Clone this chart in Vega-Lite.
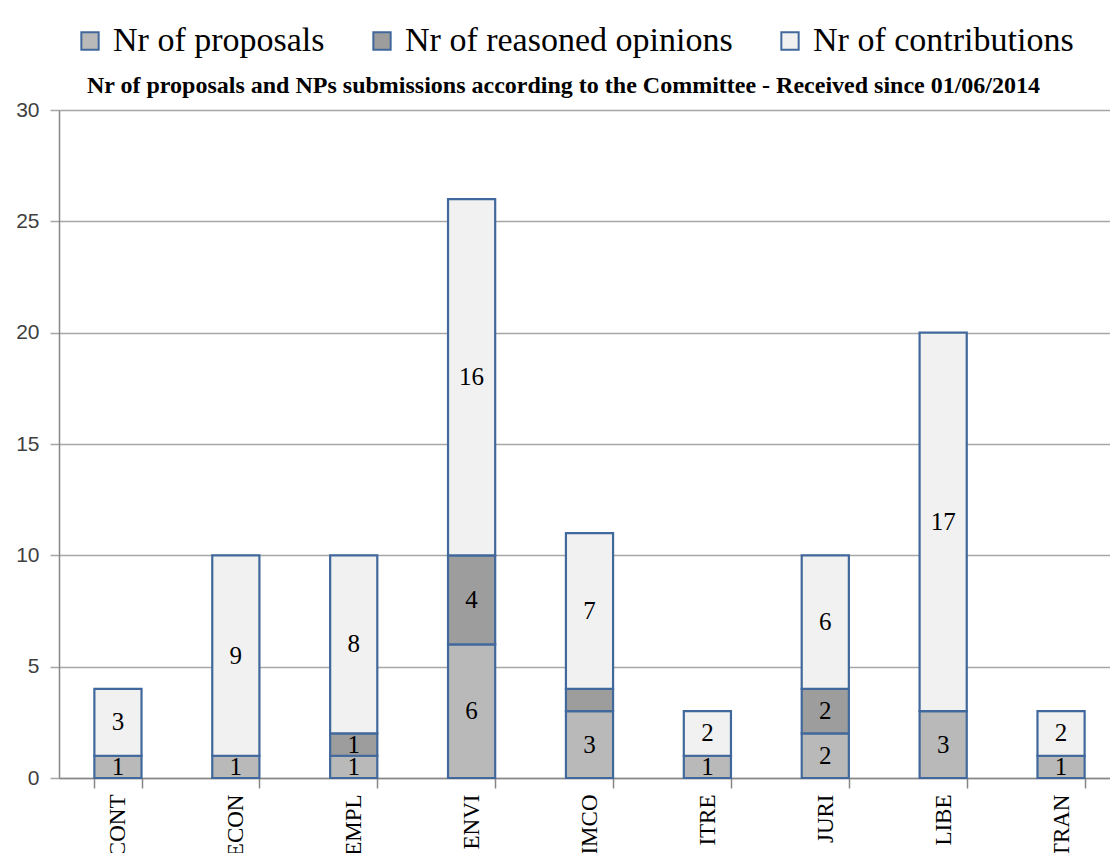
{
  "$schema": "https://vega.github.io/schema/vega-lite/v6.json",
  "width": 1061,
  "height": 668,
  "autosize": {"type": "none"},
  "padding": {"left": 59, "top": 110, "right": 0, "bottom": 75},
  "background": "white",
  "config": {
    "view": {"stroke": null},
    "font": "Liberation Serif",
    "legend": {"labelFont": "Liberation Serif"}
  },
  "title": {
    "text": "Nr of proposals  and NPs submissions  according to the Committee - Received since 01/06/2014",
    "font": "Liberation Serif",
    "fontSize": 24,
    "fontWeight": "bold",
    "color": "black",
    "offset": -74,
    "anchor": "middle",
    "dx": -26
  },
  "data": {
    "values": [
      {"committee": "CONT", "series": "Nr of proposals", "value": 1, "label": "1"},
      {"committee": "CONT", "series": "Nr of reasoned opinions", "value": 0, "label": ""},
      {"committee": "CONT", "series": "Nr of contributions", "value": 3, "label": "3"},
      {"committee": "ECON", "series": "Nr of proposals", "value": 1, "label": "1"},
      {"committee": "ECON", "series": "Nr of reasoned opinions", "value": 0, "label": ""},
      {"committee": "ECON", "series": "Nr of contributions", "value": 9, "label": "9"},
      {"committee": "EMPL", "series": "Nr of proposals", "value": 1, "label": "1"},
      {"committee": "EMPL", "series": "Nr of reasoned opinions", "value": 1, "label": "1"},
      {"committee": "EMPL", "series": "Nr of contributions", "value": 8, "label": "8"},
      {"committee": "ENVI", "series": "Nr of proposals", "value": 6, "label": "6"},
      {"committee": "ENVI", "series": "Nr of reasoned opinions", "value": 4, "label": "4"},
      {"committee": "ENVI", "series": "Nr of contributions", "value": 16, "label": "16"},
      {"committee": "IMCO", "series": "Nr of proposals", "value": 3, "label": "3"},
      {"committee": "IMCO", "series": "Nr of reasoned opinions", "value": 1, "label": ""},
      {"committee": "IMCO", "series": "Nr of contributions", "value": 7, "label": "7"},
      {"committee": "ITRE", "series": "Nr of proposals", "value": 1, "label": "1"},
      {"committee": "ITRE", "series": "Nr of reasoned opinions", "value": 0, "label": ""},
      {"committee": "ITRE", "series": "Nr of contributions", "value": 2, "label": "2"},
      {"committee": "JURI", "series": "Nr of proposals", "value": 2, "label": "2"},
      {"committee": "JURI", "series": "Nr of reasoned opinions", "value": 2, "label": "2"},
      {"committee": "JURI", "series": "Nr of contributions", "value": 6, "label": "6"},
      {"committee": "LIBE", "series": "Nr of proposals", "value": 3, "label": "3"},
      {"committee": "LIBE", "series": "Nr of reasoned opinions", "value": 0, "label": ""},
      {"committee": "LIBE", "series": "Nr of contributions", "value": 17, "label": "17"},
      {"committee": "TRAN", "series": "Nr of proposals", "value": 1, "label": "1"},
      {"committee": "TRAN", "series": "Nr of reasoned opinions", "value": 0, "label": ""},
      {"committee": "TRAN", "series": "Nr of contributions", "value": 2, "label": "2"}
    ]
  },
  "transform": [
    {"filter": "datum.value > 0"},
    {"calculate": "indexof(['Nr of proposals','Nr of reasoned opinions','Nr of contributions'], datum.series)", "as": "ord"},
    {"stack": "value", "groupby": ["committee"], "sort": [{"field": "ord", "order": "ascending"}], "as": ["y0", "y1"]},
    {"calculate": "(datum.y0 + datum.y1) / 2", "as": "ymid"}
  ],
  "encoding": {
    "x": {
      "field": "committee",
      "type": "nominal",
      "sort": ["CONT", "ECON", "EMPL", "ENVI", "IMCO", "ITRE", "JURI", "LIBE", "TRAN"],
      "scale": {"paddingInner": 0.6, "paddingOuter": 0.3},
      "axis": {
        "title": null,
        "labelAngle": -90,
        "labelFont": "Liberation Serif",
        "labelFontSize": 23,
        "labelColor": "black",
        "labelPadding": 6,
        "domainColor": "#868686",
        "domainWidth": 1.5,
        "tickColor": "#868686",
        "tickWidth": 1.5,
        "tickSize": 10,
        "tickBand": "extent"
      }
    }
  },
  "layer": [
    {
      "mark": {"type": "bar", "stroke": "#41689c", "strokeWidth": 2.2},
      "encoding": {
        "y": {
          "field": "y0",
          "type": "quantitative",
          "scale": {"domain": [0, 30], "nice": false},
          "axis": {
            "title": null,
            "values": [0, 5, 10, 15, 20, 25, 30],
            "grid": true,
            "gridColor": "#a6a6a6",
            "gridWidth": 1.5,
            "domainColor": "#868686",
            "domainWidth": 1.5,
            "tickColor": "#a6a6a6",
            "tickWidth": 1.5,
            "tickSize": 9,
            "labelFont": "Liberation Sans",
            "labelFontSize": 21,
            "labelColor": "#404040",
            "labelPadding": 11
          }
        },
        "y2": {"field": "y1"},
        "color": {
          "field": "series",
          "type": "nominal",
          "scale": {
            "domain": ["Nr of proposals", "Nr of reasoned opinions", "Nr of contributions"],
            "range": ["#b9b9b9", "#9d9d9d", "#f1f1f1"]
          },
          "legend": {
            "title": null,
            "orient": "none",
            "legendX": 14,
            "legendY": -86,
            "direction": "horizontal",
            "labelFont": "Liberation Serif",
            "labelFontSize": 34,
            "labelColor": "black",
            "symbolType": "square",
            "symbolSize": 300,
            "symbolStrokeColor": "#41689c",
            "symbolStrokeWidth": 2,
            "labelOffset": 6,
            "columnPadding": 40,
            "labelLimit": 500
          }
        }
      }
    },
    {
      "mark": {"type": "text", "font": "Liberation Serif", "fontSize": 25, "color": "black", "baseline": "middle"},
      "encoding": {
        "y": {
          "field": "ymid",
          "type": "quantitative",
          "axis": {
            "title": null,
            "values": [0, 5, 10, 15, 20, 25, 30],
            "grid": true,
            "gridColor": "#a6a6a6",
            "gridWidth": 1.5,
            "domainColor": "#868686",
            "domainWidth": 1.5,
            "tickColor": "#a6a6a6",
            "tickWidth": 1.5,
            "tickSize": 9,
            "labelFont": "Liberation Sans",
            "labelFontSize": 21,
            "labelColor": "#404040",
            "labelPadding": 11
          }
        },
        "text": {"field": "label"}
      }
    }
  ]
}
